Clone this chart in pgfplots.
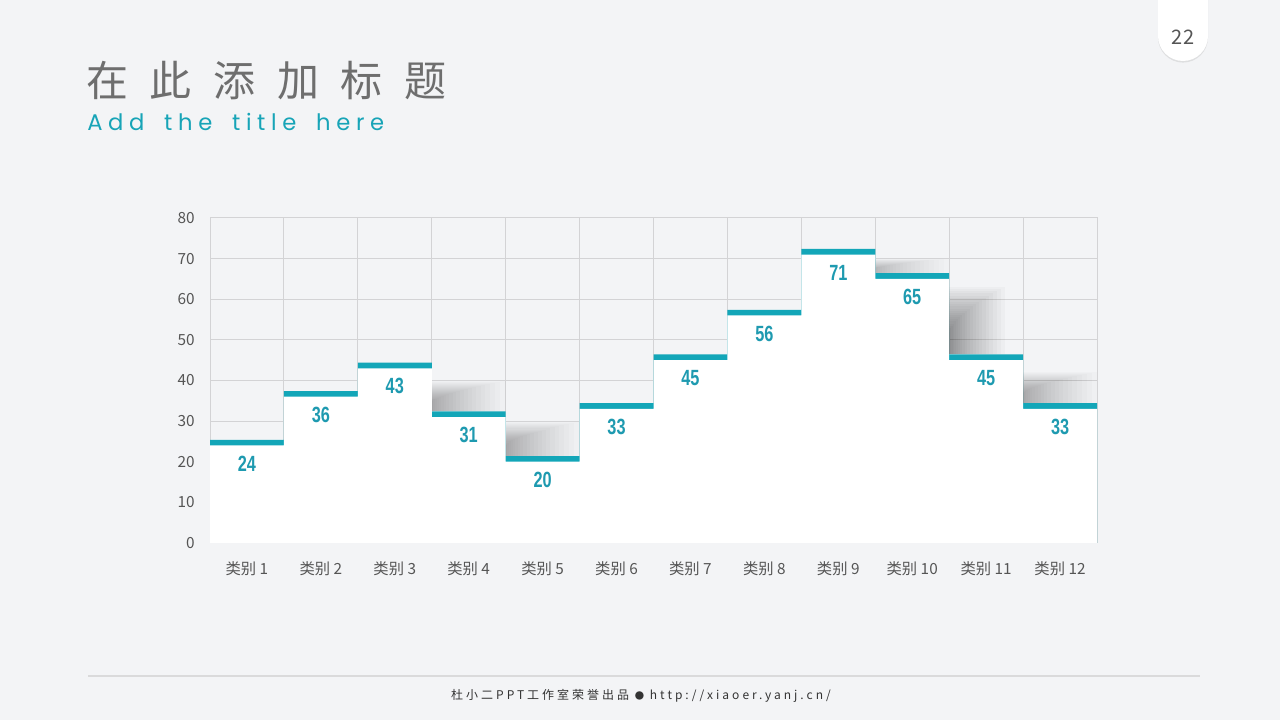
\documentclass[border=0pt]{standalone}
\usepackage{pgfplots}
\pgfplotsset{compat=1.18}
\usepackage{pgfplotstable}
\usetikzlibrary{shadows}
\usepackage{fontspec}
\setmainfont{Noto Sans CJK SC}
\newfontfamily\cjk{Noto Sans CJK SC}
\newfontfamily\cjkfoot{Noto Sans CJK SC}[LetterSpace=25]
\newfontfamily\numfont{Liberation Sans}[FakeStretch=0.74]
\newfontfamily\subfont{Poppins}[LetterSpace=25]
\definecolor{bg}{HTML}{F3F4F6}
\definecolor{capc}{HTML}{13A6B8}
\definecolor{lab}{HTML}{1E9AB0}
\definecolor{gridc}{HTML}{D3D3D5}
\definecolor{tickc}{HTML}{555555}
\definecolor{titlec}{HTML}{6E6E6E}
\definecolor{subc}{HTML}{17A4B7}

\pgfplotstableread{
x v
1 24
2 36
3 43
4 31
5 20
6 33
7 45
8 56
9 71
10 65
11 45
12 33
}\data

% soft shadow: x, ybottom, ytop, width, opacity per step
\newcommand\shadowat[5]{%
  \pgfplotsinvokeforeach{1,...,22}{%
    \fill[black,fill opacity=#5]
      (axis cs:#1,#2) rectangle (axis cs:{#1+#4*(##1/22)^1.6},{#2+(#3-#2)*(0.3+0.7*##1/22)});
  }}

\begin{document}
\begin{tikzpicture}
\useasboundingbox (0,0) rectangle (960pt,540pt);
\fill[bg] (0,0) rectangle (960pt,540pt);
\begin{scope}[x=0.75pt,y=-0.75pt,shift={(0,540pt)}]
  % title
  \node[anchor=west,inner sep=0pt,text=titlec,font=\cjk\fontsize{31.5}{34}\selectfont] at (86,81)
    {在\hspace{16.2pt}此\hspace{16.2pt}添\hspace{16.2pt}加\hspace{16.2pt}标\hspace{16.2pt}题};
  \node[anchor=west,inner sep=0pt,text=subc,font=\subfont\fontsize{17}{20}\selectfont] at (87,122)
    {Add\hspace{6pt} the\hspace{6pt} title\hspace{6pt} here};
  % page number
  \fill[white,drop shadow={shadow xshift=0pt,shadow yshift=-1.2pt,opacity=0.18}]
    (1158,-2) -- (1158,36) arc (180:0:25) -- (1208,-2) -- cycle;
  \node[text=tickc,font=\fontsize{15}{16}\selectfont] at (1183,37) {22};
  % footer
  \draw[color=gridc!85!white,line width=2.2pt] (88,676) -- (1200,676);
  \node[text=black!80,font=\cjkfoot\fontsize{9}{10}\selectfont] at (641,696)
    {杜小二PPT工作室荣誉出品 {\fontsize{7}{8}\selectfont●} http://xiaoer.yanj.cn/};
\end{scope}

\begin{axis}[
  at={(157.5pt,132.75pt)}, anchor=south west,
  scale only axis, width=665.25pt, height=243.75pt,
  xmin=0.5, xmax=12.5, ymin=0, ymax=80,
  xtick={1,...,12},
  xticklabels={类别 1,类别 2,类别 3,类别 4,类别 5,类别 6,类别 7,类别 8,类别 9,类别 10,类别 11,类别 12},
  minor xtick={1.5,2.5,...,11.5},
  ytick={0,10,...,80},
  xminorgrids, ymajorgrids,
  major tick length=0pt, minor tick length=0pt,
  grid style={gridc,line width=0.75pt},
  minor grid style={gridc,line width=0.75pt},
  axis line style={gridc,line width=0.75pt},
  tick label style={font=\fontsize{11.5}{13}\selectfont,text=tickc},
  /pgf/number format/assume math mode=true,
  yticklabel style={xshift=-8pt},
  xticklabel style={yshift=-10.5pt},
]
  % shadows
  \shadowat{3.5}{32.4}{39.8}{1.0}{0.016}
  \shadowat{4.5}{21.4}{29.8}{1.0}{0.016}
  \shadowat{9.5}{66.4}{70}{1.0}{0.011}
  \shadowat{10.5}{46.4}{63}{0.75}{0.022}
  \shadowat{11.5}{34.4}{42}{1.0}{0.017}
  % caps
  \addplot[ybar,bar width=1,bar shift=0pt,fill=capc,draw=none]
    table[x=x,y expr=\thisrow{v}+1.4] {\data};
  % bars
  \addplot[ybar,bar width=1,bar shift=0pt,fill=white,draw=none,
    nodes near coords,
    every node near coord/.append style={anchor=center,yshift=-13.5pt,text=lab,
      font=\numfont\bfseries\fontsize{16.5}{18}\selectfont}]
    table[x=x,y=v] {\data};
\end{axis}
\end{tikzpicture}
\end{document}
